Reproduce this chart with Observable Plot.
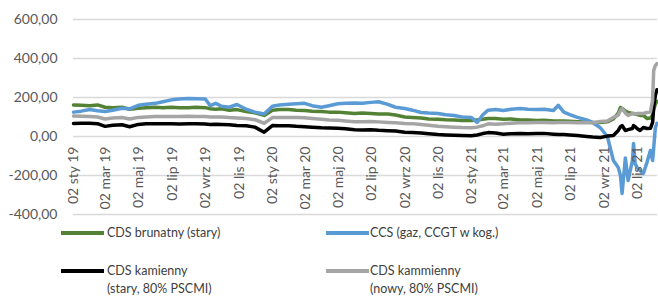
<!DOCTYPE html>
<html><head><meta charset="utf-8">
<script src="https://cdn.jsdelivr.net/npm/d3@7"></script>
<script src="https://cdn.jsdelivr.net/npm/@observablehq/plot@0.6"></script>
<style>
body{margin:0;background:#fff;}
#wrap{position:relative;width:658px;height:297px;font-family:Lato,"Open Sans",sans-serif;overflow:hidden;}
#wrap svg{position:absolute;left:0;top:0;}
.sw{position:absolute;height:4px;}
.lt{position:absolute;font-size:12.5px;color:#404040;line-height:18px;white-space:nowrap;}
</style></head><body><div id="wrap"></div>
<script>
const dates = [
"2019-01-02","2019-01-16","2019-02-01","2019-02-15","2019-03-01","2019-03-15","2019-04-01","2019-04-15","2019-05-01","2019-05-15","2019-06-01","2019-06-15","2019-07-01","2019-07-15","2019-08-01","2019-08-15","2019-09-01","2019-09-10","2019-09-20","2019-10-01","2019-10-15","2019-10-29","2019-11-15","2019-12-01","2019-12-18",
"2020-01-02","2020-01-15","2020-02-01","2020-02-15","2020-03-01","2020-03-15","2020-04-01","2020-04-15","2020-05-01","2020-05-15","2020-06-01","2020-06-15","2020-07-01","2020-07-15","2020-08-01","2020-08-15","2020-09-01","2020-09-15","2020-10-01","2020-10-15","2020-11-01","2020-11-15","2020-12-01","2020-12-15",
"2021-01-01","2021-01-12","2021-01-22","2021-02-01","2021-02-15","2021-03-01","2021-03-15","2021-04-01","2021-04-15","2021-05-01","2021-05-15","2021-06-01","2021-06-10","2021-06-20","2021-07-01","2021-07-15","2021-08-01",
"2021-08-12","2021-08-26","2021-09-08","2021-09-19","2021-09-28","2021-10-02","2021-10-05","2021-10-11","2021-10-16","2021-10-24","2021-10-26","2021-10-29","2021-11-02","2021-11-07","2021-11-13","2021-11-20","2021-11-26","2021-11-30","2021-12-02","2021-12-05","2021-12-08"
];
const cdsBrunatny = [
162,160,158,162,150,148,150,140,145,148,150,148,150,148,148,150,148,142,140,142,135,138,128,122,108,
135,138,138,135,133,130,128,125,125,122,118,120,118,115,115,110,100,98,95,90,88,86,85,82,
82,85,88,92,92,88,90,85,84,82,83,80,80,80,78,76,74,
72,72,75,90,120,149,144,130,123,118,118,115,112,108,108,92,95,110,140,165,180
];
const ccsGaz = [
125,130,138,132,128,135,145,142,160,165,170,178,188,192,195,194,192,158,170,155,150,164,140,125,115,
155,162,165,168,170,158,150,158,168,170,172,170,175,178,165,150,144,135,123,120,118,112,108,100,
98,72,110,135,138,133,140,144,140,138,140,133,160,125,112,98,85,
72,45,0,-123,-159,-200,-292,-110,-226,-123,-36,-140,-160,-174,-190,-130,-72,-123,-60,46,67
];
const cdsKamiennyStary = [
67,68,68,66,52,58,60,50,62,65,65,66,66,64,66,65,64,62,63,62,60,56,55,48,22,
56,55,55,52,50,48,45,44,42,40,35,33,35,32,30,28,22,20,18,14,10,8,6,5,
4,8,15,20,18,12,14,15,14,15,16,12,10,10,8,5,0,
-3,-5,2,5,31,50,56,31,35,41,56,50,40,31,46,41,42,72,150,210,240
];
const cdsKamiennyNowy = [
105,104,103,100,90,95,97,90,98,100,102,102,103,102,104,103,102,100,100,100,97,95,92,86,68,
97,97,97,98,96,92,88,85,83,80,76,76,77,75,72,70,67,66,62,58,52,50,48,46,
45,48,55,65,63,65,68,70,70,72,72,70,72,72,72,70,70,
70,77,80,98,110,133,144,120,108,118,118,115,118,118,118,123,125,185,338,364,374
];
const seriesNames = ["CDS brunatny (stary)", "CCS (gaz, CCGT w kog.)", "CDS kamienny (stary, 80% PSCMI)", "CDS kammienny (nowy, 80% PSCMI)"];
const seriesColors = ["#548235", "#5b9bd5", "#000000", "#a5a5a5"];
const yTicks = [600, 400, 200, 0, -200, -400];
const xTickDates = ["2019-01-02","2019-03-02","2019-05-02","2019-07-02","2019-09-02","2019-11-02","2020-01-02","2020-03-02","2020-05-02","2020-07-02","2020-09-02","2020-11-02","2021-01-02","2021-03-02","2021-05-02","2021-07-02","2021-09-02","2021-11-02"];
const xTickLabels = ["02 sty 19","02 mar 19","02 maj 19","02 lip 19","02 wrz 19","02 lis 19","02 sty 20","02 mar 20","02 maj 20","02 lip 20","02 wrz 20","02 lis 20","02 sty 21","02 mar 21","02 maj 21","02 lip 21","02 wrz 21","02 lis 21"];

const valueArrays = [cdsBrunatny, ccsGaz, cdsKamiennyStary, cdsKamiennyNowy];
const rows = valueArrays.flatMap((vals, s) => dates.map((d, i) => ({date: new Date(d), value: vals[i], name: seriesNames[s]})));
const ticks = xTickDates.map((d, i) => ({date: new Date(d), label: xTickLabels[i]}));

const chart = Plot.plot({
  width: 658, height: 222,
  marginLeft: 73, marginRight: 1, marginTop: 19, marginBottom: 8,
  style: {fontFamily: "Lato, 'Open Sans', sans-serif", fontSize: "14px", background: "transparent", overflow: "visible"},
  x: {type: "utc", domain: [new Date("2019-01-02"), new Date("2021-12-09")], axis: null},
  y: {domain: [-400, 600]},
  color: {domain: seriesNames, range: seriesColors},
  marks: [
    Plot.ruleY(yTicks, {stroke: "#d9d9d9", strokeWidth: 1.4}),
    Plot.axisY(yTicks, {tickSize: 0, tickPadding: 16, tickFormat: d => d.toFixed(2).replace(".", ","), fill: "#595959", fontSize: 14, label: null}),
    Plot.lineY(rows, {x: "date", y: "value", z: "name", stroke: "name", strokeWidth: 3.5, strokeLinejoin: "round"}),
    Plot.text(ticks, {x: "date", y: () => 0, text: "label", rotate: -90, textAnchor: "end", dy: 10, fill: "#595959", fontSize: 14})
  ]
});
const wrap = document.getElementById("wrap");
wrap.appendChild(chart);

const legendItems = [
  {name: ["CDS brunatny (stary)"], color: seriesColors[0], lx: 61, tx: 107, cy: 233},
  {name: ["CCS (gaz, CCGT w kog.)"], color: seriesColors[1], lx: 326, tx: 370, cy: 233},
  {name: ["CDS kamienny", "(stary, 80% PSCMI)"], color: seriesColors[2], lx: 61, tx: 107, cy: 271},
  {name: ["CDS kammienny", "(nowy, 80% PSCMI)"], color: seriesColors[3], lx: 326, tx: 370, cy: 271}
];
for (const it of legendItems) {
  const sw = document.createElement("div");
  sw.className = "sw";
  sw.style.left = it.lx + "px"; sw.style.width = "43px"; sw.style.top = (it.cy - 2) + "px"; sw.style.background = it.color;
  wrap.appendChild(sw);
  const t = document.createElement("div");
  t.className = "lt";
  t.style.left = it.tx + "px"; t.style.top = (it.cy - 9) + "px";
  t.innerHTML = it.name.join("<br>");
  wrap.appendChild(t);
}
</script></body></html>
